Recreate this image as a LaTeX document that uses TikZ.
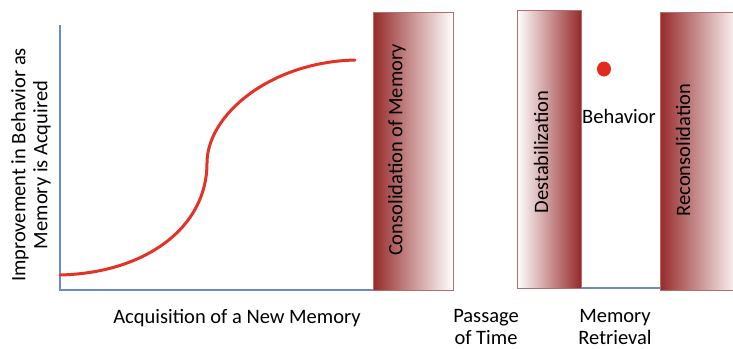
\documentclass[tikz,border=0pt]{standalone}
\usepackage{fontspec}
\setmainfont{Carlito}
\begin{document}
\begin{tikzpicture}[x=1pt,y=-1pt,
  lbl/.style={font=\fontsize{20.5}{22}\selectfont, text=black, inner sep=0pt, align=center},
  axis/.style={draw=axisblue, line width=1.6pt},
  barL/.style={draw=barborder, line width=0.8pt, left color=bardark, right color=white},
  barR/.style={draw=barborder, line width=0.8pt, left color=white, right color=bardark},
  curve/.style={draw=curvered, line width=3pt, line cap=round}]
\definecolor{axisblue}{RGB}{104,140,200}
\definecolor{bardark}{RGB}{150,42,42}
\definecolor{barborder}{RGB}{180,110,110}
\definecolor{curvered}{RGB}{228,50,36}
\definecolor{dotred}{RGB}{226,42,30}
\useasboundingbox (0,0) rectangle (733,348);
% axes
\coordinate (o) at (60,290);
\coordinate (ytop) at (60,25);
\coordinate (xend) at (373,290);
\draw[axis] (ytop) -- (o) -- (xend);
% bars
\path[barL] (373,12) rectangle (453,290);
\path[barR] (517,10) rectangle (581,288);
\path[barL] (660,12) rectangle (740,290);
\coordinate (dsr) at (581,288);
\coordinate (rcl) at (660,288);
\draw[axis] (dsr) -- (rcl);
% curve
\coordinate (c0) at (60,275);
\coordinate (c1) at (207,163);
\coordinate (c2) at (355,60);
\draw[curve] (c0) .. controls (145,273) and (207,228) .. (c1)
  .. controls (207,115) and (270,62) .. (c2);
% dot
\fill[dotred] (604,69) ellipse (7 and 7.5);
% texts
\node[lbl, rotate=90] (consT) at (397,150) {Consolidation of Memory};
\node[lbl, rotate=90] (destT) at (541,152) {Destabilization};
\node[lbl, rotate=90] (reconT) at (683,150) {Reconsolidation};
\node[lbl] (behav) at (619,116) {Behavior};
\node[lbl, rotate=90] (ylab) at (31,165) {Improvement in Behavior as\\Memory is Acquired};
\node[lbl] (xlab) at (237,318) {Acquisition of a New Memory};
\node[lbl] (pass) at (486,326.5) {Passage\\of Time};
\node[lbl] (retr) at (615,326.5) {Memory\\Retrieval};
\end{tikzpicture}
\end{document}
